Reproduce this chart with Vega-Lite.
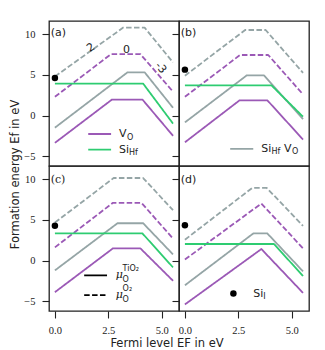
{
  "$schema": "https://vega.github.io/schema/vega-lite/v6.json",
  "padding": {"left": 9, "top": 20, "right": 0, "bottom": 0},
  "config": {
    "view": {"stroke": "#222", "strokeWidth": 1.3},
    "axis": {"domain": false, "grid": false, "tickSize": 7, "tickColor": "#222", "tickWidth": 1.1, "labelFont": "Liberation Serif", "labelFontSize": 10.5, "labelColor": "#222", "labelPadding": 7, "titleFont": "DejaVu Sans", "titleFontSize": 11.5, "titleFontWeight": "normal", "titleColor": "#222"},
    "axisY": {"titlePadding": 3},
    "axisX": {"titlePadding": 2},
    "text": {"font": "DejaVu Sans", "color": "#222"}
  },
  "datasets": {
    "lines": [
      {"panel": "a", "defect": "V_O", "mu": "TiO2", "x": 0, "y": -3.37},
      {"panel": "a", "defect": "V_O", "mu": "TiO2", "x": 2.67, "y": 1.96},
      {"panel": "a", "defect": "V_O", "mu": "TiO2", "x": 4.1, "y": 1.96},
      {"panel": "a", "defect": "V_O", "mu": "TiO2", "x": 5.53, "y": -2.5},
      {"panel": "a", "defect": "V_O", "mu": "O2", "x": 0, "y": 2.3},
      {"panel": "a", "defect": "V_O", "mu": "O2", "x": 2.63, "y": 7.56},
      {"panel": "a", "defect": "V_O", "mu": "O2", "x": 4.0, "y": 7.56},
      {"panel": "a", "defect": "V_O", "mu": "O2", "x": 5.53, "y": 2.94},
      {"panel": "a", "defect": "Si_Hf V_O", "mu": "TiO2", "x": 0, "y": -1.5},
      {"panel": "a", "defect": "Si_Hf V_O", "mu": "TiO2", "x": 3.4, "y": 5.32},
      {"panel": "a", "defect": "Si_Hf V_O", "mu": "TiO2", "x": 4.2, "y": 5.32},
      {"panel": "a", "defect": "Si_Hf V_O", "mu": "TiO2", "x": 5.53, "y": 0.95},
      {"panel": "a", "defect": "Si_Hf V_O", "mu": "O2", "x": 0, "y": 4.8},
      {"panel": "a", "defect": "Si_Hf V_O", "mu": "O2", "x": 3.2, "y": 10.83},
      {"panel": "a", "defect": "Si_Hf V_O", "mu": "O2", "x": 4.2, "y": 10.83},
      {"panel": "a", "defect": "Si_Hf V_O", "mu": "O2", "x": 5.53, "y": 6.54},
      {"panel": "a", "defect": "Si_Hf", "mu": "TiO2", "x": 0, "y": 3.93},
      {"panel": "a", "defect": "Si_Hf", "mu": "TiO2", "x": 4.13, "y": 3.93},
      {"panel": "a", "defect": "Si_Hf", "mu": "TiO2", "x": 5.53, "y": -1.0},

      {"panel": "b", "defect": "V_O", "mu": "TiO2", "x": 0, "y": -3.3},
      {"panel": "b", "defect": "V_O", "mu": "TiO2", "x": 2.56, "y": 1.87},
      {"panel": "b", "defect": "V_O", "mu": "TiO2", "x": 3.86, "y": 1.87},
      {"panel": "b", "defect": "V_O", "mu": "TiO2", "x": 5.53, "y": -2.96},
      {"panel": "b", "defect": "V_O", "mu": "O2", "x": 0, "y": 2.3},
      {"panel": "b", "defect": "V_O", "mu": "O2", "x": 2.58, "y": 7.45},
      {"panel": "b", "defect": "V_O", "mu": "O2", "x": 3.9, "y": 7.45},
      {"panel": "b", "defect": "V_O", "mu": "O2", "x": 5.53, "y": 2.6},
      {"panel": "b", "defect": "Si_Hf V_O", "mu": "TiO2", "x": 0, "y": -0.85},
      {"panel": "b", "defect": "Si_Hf V_O", "mu": "TiO2", "x": 2.9, "y": 4.95},
      {"panel": "b", "defect": "Si_Hf V_O", "mu": "TiO2", "x": 3.7, "y": 4.95},
      {"panel": "b", "defect": "Si_Hf V_O", "mu": "TiO2", "x": 5.53, "y": -0.45},
      {"panel": "b", "defect": "Si_Hf V_O", "mu": "O2", "x": 0, "y": 4.9},
      {"panel": "b", "defect": "Si_Hf V_O", "mu": "O2", "x": 2.82, "y": 10.53},
      {"panel": "b", "defect": "Si_Hf V_O", "mu": "O2", "x": 3.78, "y": 10.53},
      {"panel": "b", "defect": "Si_Hf V_O", "mu": "O2", "x": 5.53, "y": 5.25},
      {"panel": "b", "defect": "Si_Hf", "mu": "TiO2", "x": 0, "y": 3.72},
      {"panel": "b", "defect": "Si_Hf", "mu": "TiO2", "x": 4.05, "y": 3.72},
      {"panel": "b", "defect": "Si_Hf", "mu": "TiO2", "x": 5.53, "y": -0.15},

      {"panel": "c", "defect": "V_O", "mu": "TiO2", "x": 0, "y": -3.9},
      {"panel": "c", "defect": "V_O", "mu": "TiO2", "x": 2.72, "y": 1.5},
      {"panel": "c", "defect": "V_O", "mu": "TiO2", "x": 4.0, "y": 1.5},
      {"panel": "c", "defect": "V_O", "mu": "TiO2", "x": 5.53, "y": -2.5},
      {"panel": "c", "defect": "V_O", "mu": "O2", "x": 0, "y": 1.62},
      {"panel": "c", "defect": "V_O", "mu": "O2", "x": 2.72, "y": 7.11},
      {"panel": "c", "defect": "V_O", "mu": "O2", "x": 4.05, "y": 7.11},
      {"panel": "c", "defect": "V_O", "mu": "O2", "x": 5.53, "y": 2.7},
      {"panel": "c", "defect": "Si_Hf V_O", "mu": "TiO2", "x": 0, "y": -1.22},
      {"panel": "c", "defect": "Si_Hf V_O", "mu": "TiO2", "x": 2.93, "y": 4.59},
      {"panel": "c", "defect": "Si_Hf V_O", "mu": "TiO2", "x": 4.13, "y": 4.59},
      {"panel": "c", "defect": "Si_Hf V_O", "mu": "TiO2", "x": 5.53, "y": 0.75},
      {"panel": "c", "defect": "Si_Hf V_O", "mu": "O2", "x": 0, "y": 4.67},
      {"panel": "c", "defect": "Si_Hf V_O", "mu": "O2", "x": 2.75, "y": 10.16},
      {"panel": "c", "defect": "Si_Hf V_O", "mu": "O2", "x": 4.13, "y": 10.16},
      {"panel": "c", "defect": "Si_Hf V_O", "mu": "O2", "x": 5.53, "y": 6.2},
      {"panel": "c", "defect": "Si_Hf", "mu": "TiO2", "x": 0, "y": 3.33},
      {"panel": "c", "defect": "Si_Hf", "mu": "TiO2", "x": 4.1, "y": 3.33},
      {"panel": "c", "defect": "Si_Hf", "mu": "TiO2", "x": 5.53, "y": -0.85},

      {"panel": "d", "defect": "V_O", "mu": "TiO2", "x": 0, "y": -5.41},
      {"panel": "d", "defect": "V_O", "mu": "TiO2", "x": 3.58, "y": 1.41},
      {"panel": "d", "defect": "V_O", "mu": "TiO2", "x": 5.53, "y": -3.99},
      {"panel": "d", "defect": "V_O", "mu": "O2", "x": 0, "y": 0.12},
      {"panel": "d", "defect": "V_O", "mu": "O2", "x": 3.58, "y": 7.02},
      {"panel": "d", "defect": "V_O", "mu": "O2", "x": 5.53, "y": 1.5},
      {"panel": "d", "defect": "Si_Hf V_O", "mu": "TiO2", "x": 0, "y": -3.05},
      {"panel": "d", "defect": "Si_Hf V_O", "mu": "TiO2", "x": 3.2, "y": 3.33},
      {"panel": "d", "defect": "Si_Hf V_O", "mu": "TiO2", "x": 3.86, "y": 3.33},
      {"panel": "d", "defect": "Si_Hf V_O", "mu": "TiO2", "x": 5.53, "y": -1.34},
      {"panel": "d", "defect": "Si_Hf V_O", "mu": "O2", "x": 0, "y": 2.56},
      {"panel": "d", "defect": "Si_Hf V_O", "mu": "O2", "x": 3.15, "y": 8.94},
      {"panel": "d", "defect": "Si_Hf V_O", "mu": "O2", "x": 3.83, "y": 8.94},
      {"panel": "d", "defect": "Si_Hf V_O", "mu": "O2", "x": 5.53, "y": 4.27},
      {"panel": "d", "defect": "Si_Hf", "mu": "TiO2", "x": 0, "y": 2.03},
      {"panel": "d", "defect": "Si_Hf", "mu": "TiO2", "x": 4.17, "y": 2.03},
      {"panel": "d", "defect": "Si_Hf", "mu": "TiO2", "x": 5.53, "y": -1.91}
    ],
    "keys": [
      {"panel": "a", "defect": "V_O", "mu": "TiO2", "x": 1.56, "x2": 2.63, "y": -2.28},
      {"panel": "a", "defect": "Si_Hf", "mu": "TiO2", "x": 1.56, "x2": 2.63, "y": -4.2},
      {"panel": "b", "defect": "Si_Hf V_O", "mu": "TiO2", "x": 2.12, "x2": 3.2, "y": -4.12},
      {"panel": "c", "defect": "key", "mu": "TiO2", "x": 1.37, "x2": 2.44, "y": -1.83},
      {"panel": "c", "defect": "key", "mu": "O2", "x": 1.37, "x2": 2.44, "y": -4.27}
    ],
    "dots": [
      {"panel": "a", "x": 0, "y": 4.62},
      {"panel": "b", "x": 0, "y": 5.65},
      {"panel": "c", "x": 0, "y": 4.27},
      {"panel": "d", "x": 0, "y": 4.34},
      {"panel": "d", "x": 2.27, "y": -4.07}
    ],
    "texts": [
      {"panel": "a", "kind": "lab", "t": "(a)", "x": -0.2, "y": 10.2},
      {"panel": "b", "kind": "lab", "t": "(b)", "x": -0.2, "y": 10.2},
      {"panel": "c", "kind": "labserif", "t": "(c)", "x": -0.2, "y": 9.95},
      {"panel": "d", "kind": "lab", "t": "(d)", "x": -0.2, "y": 9.95},
      {"panel": "a", "kind": "q2", "t": "2", "x": 1.69, "y": 8.33},
      {"panel": "a", "kind": "q0", "t": "0", "x": 3.35, "y": 8.1},
      {"panel": "a", "kind": "q3", "t": "-3", "x": 4.95, "y": 5.86},
      {"panel": "a", "kind": "main", "t": "V", "x": 3.0, "y": -2.28},
      {"panel": "a", "kind": "sub", "t": "O", "x": 3.37, "y": -2.28},
      {"panel": "a", "kind": "main", "t": "Si", "x": 3.0, "y": -4.2},
      {"panel": "a", "kind": "sub", "t": "Hf", "x": 3.47, "y": -4.2},
      {"panel": "b", "kind": "main", "t": "Si", "x": 3.58, "y": -4.12},
      {"panel": "b", "kind": "sub", "t": "Hf", "x": 4.05, "y": -4.12},
      {"panel": "b", "kind": "main", "t": "V", "x": 4.64, "y": -4.12},
      {"panel": "b", "kind": "sub", "t": "O", "x": 5.01, "y": -4.12},
      {"panel": "c", "kind": "mu", "t": "μ", "x": 2.85, "y": -1.83},
      {"panel": "c", "kind": "sub", "t": "O", "x": 3.17, "y": -1.83},
      {"panel": "c", "kind": "sup", "t": "TiO₂", "x": 3.17, "y": -1.83},
      {"panel": "c", "kind": "mu", "t": "μ", "x": 2.85, "y": -4.27},
      {"panel": "c", "kind": "sub", "t": "O", "x": 3.17, "y": -4.27},
      {"panel": "c", "kind": "sup", "t": "O₂", "x": 3.17, "y": -4.27},
      {"panel": "d", "kind": "main", "t": "Si", "x": 3.2, "y": -4.07},
      {"panel": "d", "kind": "sub", "t": "I", "x": 3.67, "y": -4.07}
    ]
  },
  "columns": 2,
  "spacing": 0,
  "bounds": "flush",
  "concat": [
    {
      "width": 130, "height": 145,
      "encoding": {
        "x": {"field": "x", "type": "quantitative", "scale": {"domain": [-0.277, 5.81], "nice": false, "zero": false}, "axis": null},
        "y": {"field": "y", "type": "quantitative", "scale": {"domain": [-6.22, 11.64], "nice": false, "zero": false}, "axis": {"values": [-5, 0, 5, 10], "title": "Formation energy Ef in eV", "titleY": 153}}
      },
      "layer": [
        {"data": {"name": "lines"}, "transform": [{"filter": "datum.panel === 'a'"}], "mark": {"type": "line", "strokeWidth": 1.8, "strokeJoin": "round"},
         "encoding": {"color": {"field": "defect", "type": "nominal", "scale": {"domain": ["V_O", "Si_Hf", "Si_Hf V_O", "key"], "range": ["#9b59b6", "#2ecc71", "#95a5a6", "#000000"]}, "legend": null},
                      "strokeDash": {"field": "mu", "type": "nominal", "scale": {"domain": ["TiO2", "O2"], "range": [[1, 0], [5.5, 2.4]]}, "legend": null}}},
        {"data": {"name": "keys"}, "transform": [{"filter": "datum.panel === 'a'"}], "mark": {"type": "rule", "strokeWidth": 1.8},
         "encoding": {"x2": {"field": "x2"}, "color": {"field": "defect", "type": "nominal", "scale": {"domain": ["V_O", "Si_Hf", "Si_Hf V_O", "key"], "range": ["#9b59b6", "#2ecc71", "#95a5a6", "#000000"]}, "legend": null},
                      "strokeDash": {"field": "mu", "type": "nominal", "scale": {"domain": ["TiO2", "O2"], "range": [[1, 0], [5.5, 2.4]]}, "legend": null}}},
        {"data": {"name": "dots"}, "transform": [{"filter": "datum.panel === 'a'"}], "mark": {"type": "point", "filled": true, "size": 42, "color": "#000", "opacity": 1}, "encoding": {}},
        {"data": {"name": "texts"}, "transform": [{"filter": "datum.panel === 'a' && datum.kind === 'lab'"}], "mark": {"type": "text", "fontSize": 11, "align": "left", "baseline": "middle"}, "encoding": {"text": {"field": "t"}}},
        {"data": {"name": "texts"}, "transform": [{"filter": "datum.panel === 'a' && datum.kind === 'main'"}], "mark": {"type": "text", "fontSize": 11, "align": "left", "baseline": "middle"}, "encoding": {"text": {"field": "t"}}},
        {"data": {"name": "texts"}, "transform": [{"filter": "datum.panel === 'a' && datum.kind === 'sub'"}], "mark": {"type": "text", "fontSize": 8, "dy": 3.5, "align": "left", "baseline": "middle"}, "encoding": {"text": {"field": "t"}}},
        {"data": {"name": "texts"}, "transform": [{"filter": "datum.panel === 'a' && datum.kind === 'q2'"}], "mark": {"type": "text", "fontSize": 11, "angle": -34, "align": "center", "baseline": "middle"}, "encoding": {"text": {"field": "t"}}},
        {"data": {"name": "texts"}, "transform": [{"filter": "datum.panel === 'a' && datum.kind === 'q0'"}], "mark": {"type": "text", "fontSize": 11, "align": "center", "baseline": "middle"}, "encoding": {"text": {"field": "t"}}},
        {"data": {"name": "texts"}, "transform": [{"filter": "datum.panel === 'a' && datum.kind === 'q3'"}], "mark": {"type": "text", "fontSize": 11, "angle": 50, "align": "center", "baseline": "middle"}, "encoding": {"text": {"field": "t"}}}
      ]
    },
    {
      "width": 130, "height": 145,
      "encoding": {
        "x": {"field": "x", "type": "quantitative", "scale": {"domain": [-0.277, 5.81], "nice": false, "zero": false}, "axis": null},
        "y": {"field": "y", "type": "quantitative", "scale": {"domain": [-6.22, 11.64], "nice": false, "zero": false}, "axis": {"values": [-5, 0, 5, 10], "labels": false, "title": null}}
      },
      "layer": [
        {"data": {"name": "lines"}, "transform": [{"filter": "datum.panel === 'b'"}], "mark": {"type": "line", "strokeWidth": 1.8, "strokeJoin": "round"},
         "encoding": {"color": {"field": "defect", "type": "nominal", "scale": {"domain": ["V_O", "Si_Hf", "Si_Hf V_O", "key"], "range": ["#9b59b6", "#2ecc71", "#95a5a6", "#000000"]}, "legend": null},
                      "strokeDash": {"field": "mu", "type": "nominal", "scale": {"domain": ["TiO2", "O2"], "range": [[1, 0], [5.5, 2.4]]}, "legend": null}}},
        {"data": {"name": "keys"}, "transform": [{"filter": "datum.panel === 'b'"}], "mark": {"type": "rule", "strokeWidth": 1.8},
         "encoding": {"x2": {"field": "x2"}, "color": {"field": "defect", "type": "nominal", "scale": {"domain": ["V_O", "Si_Hf", "Si_Hf V_O", "key"], "range": ["#9b59b6", "#2ecc71", "#95a5a6", "#000000"]}, "legend": null},
                      "strokeDash": {"field": "mu", "type": "nominal", "scale": {"domain": ["TiO2", "O2"], "range": [[1, 0], [5.5, 2.4]]}, "legend": null}}},
        {"data": {"name": "dots"}, "transform": [{"filter": "datum.panel === 'b'"}], "mark": {"type": "point", "filled": true, "size": 42, "color": "#000", "opacity": 1}, "encoding": {}},
        {"data": {"name": "texts"}, "transform": [{"filter": "datum.panel === 'b' && datum.kind === 'lab'"}], "mark": {"type": "text", "fontSize": 11, "align": "left", "baseline": "middle"}, "encoding": {"text": {"field": "t"}}},
        {"data": {"name": "texts"}, "transform": [{"filter": "datum.panel === 'b' && datum.kind === 'main'"}], "mark": {"type": "text", "fontSize": 11, "align": "left", "baseline": "middle"}, "encoding": {"text": {"field": "t"}}},
        {"data": {"name": "texts"}, "transform": [{"filter": "datum.panel === 'b' && datum.kind === 'sub'"}], "mark": {"type": "text", "fontSize": 8, "dy": 3.5, "align": "left", "baseline": "middle"}, "encoding": {"text": {"field": "t"}}}
      ]
    },
    {
      "width": 130, "height": 145,
      "encoding": {
        "x": {"field": "x", "type": "quantitative", "scale": {"domain": [-0.277, 5.81], "nice": false, "zero": false}, "axis": {"values": [0, 2.5, 5], "format": ".1f", "title": "Fermi level EF in eV", "titleX": 117.5}},
        "y": {"field": "y", "type": "quantitative", "scale": {"domain": [-6.22, 11.64], "nice": false, "zero": false}, "axis": {"values": [-5, 0, 5, 10], "title": null}}
      },
      "layer": [
        {"data": {"name": "lines"}, "transform": [{"filter": "datum.panel === 'c'"}], "mark": {"type": "line", "strokeWidth": 1.8, "strokeJoin": "round"},
         "encoding": {"color": {"field": "defect", "type": "nominal", "scale": {"domain": ["V_O", "Si_Hf", "Si_Hf V_O", "key"], "range": ["#9b59b6", "#2ecc71", "#95a5a6", "#000000"]}, "legend": null},
                      "strokeDash": {"field": "mu", "type": "nominal", "scale": {"domain": ["TiO2", "O2"], "range": [[1, 0], [5.5, 2.4]]}, "legend": null}}},
        {"data": {"name": "keys"}, "transform": [{"filter": "datum.panel === 'c'"}], "mark": {"type": "rule", "strokeWidth": 1.8},
         "encoding": {"x2": {"field": "x2"}, "color": {"field": "defect", "type": "nominal", "scale": {"domain": ["V_O", "Si_Hf", "Si_Hf V_O", "key"], "range": ["#9b59b6", "#2ecc71", "#95a5a6", "#000000"]}, "legend": null},
                      "strokeDash": {"field": "mu", "type": "nominal", "scale": {"domain": ["TiO2", "O2"], "range": [[1, 0], [5.5, 2.4]]}, "legend": null}}},
        {"data": {"name": "dots"}, "transform": [{"filter": "datum.panel === 'c'"}], "mark": {"type": "point", "filled": true, "size": 42, "color": "#000", "opacity": 1}, "encoding": {}},
        {"data": {"name": "texts"}, "transform": [{"filter": "datum.panel === 'c' && datum.kind === 'labserif'"}], "mark": {"type": "text", "font": "DejaVu Serif", "fontSize": 11, "align": "left", "baseline": "middle"}, "encoding": {"text": {"field": "t"}}},
        {"data": {"name": "texts"}, "transform": [{"filter": "datum.panel === 'c' && datum.kind === 'mu'"}], "mark": {"type": "text", "font": "DejaVu Serif", "fontStyle": "italic", "fontSize": 11, "align": "left", "baseline": "middle"}, "encoding": {"text": {"field": "t"}}},
        {"data": {"name": "texts"}, "transform": [{"filter": "datum.panel === 'c' && datum.kind === 'sub'"}], "mark": {"type": "text", "fontSize": 8, "dy": 4.5, "align": "left", "baseline": "middle"}, "encoding": {"text": {"field": "t"}}},
        {"data": {"name": "texts"}, "transform": [{"filter": "datum.panel === 'c' && datum.kind === 'sup'"}], "mark": {"type": "text", "fontSize": 8, "dy": -6, "align": "left", "baseline": "middle"}, "encoding": {"text": {"field": "t"}}}
      ]
    },
    {
      "width": 130, "height": 145,
      "encoding": {
        "x": {"field": "x", "type": "quantitative", "scale": {"domain": [-0.277, 5.81], "nice": false, "zero": false}, "axis": {"values": [0, 2.5, 5], "format": ".1f", "title": null}},
        "y": {"field": "y", "type": "quantitative", "scale": {"domain": [-6.22, 11.64], "nice": false, "zero": false}, "axis": {"values": [-5, 0, 5, 10], "labels": false, "title": null}}
      },
      "layer": [
        {"data": {"name": "lines"}, "transform": [{"filter": "datum.panel === 'd'"}], "mark": {"type": "line", "strokeWidth": 1.8, "strokeJoin": "round"},
         "encoding": {"color": {"field": "defect", "type": "nominal", "scale": {"domain": ["V_O", "Si_Hf", "Si_Hf V_O", "key"], "range": ["#9b59b6", "#2ecc71", "#95a5a6", "#000000"]}, "legend": null},
                      "strokeDash": {"field": "mu", "type": "nominal", "scale": {"domain": ["TiO2", "O2"], "range": [[1, 0], [5.5, 2.4]]}, "legend": null}}},
        {"data": {"name": "dots"}, "transform": [{"filter": "datum.panel === 'd'"}], "mark": {"type": "point", "filled": true, "size": 42, "color": "#000", "opacity": 1}, "encoding": {}},
        {"data": {"name": "texts"}, "transform": [{"filter": "datum.panel === 'd' && datum.kind === 'lab'"}], "mark": {"type": "text", "fontSize": 11, "align": "left", "baseline": "middle"}, "encoding": {"text": {"field": "t"}}},
        {"data": {"name": "texts"}, "transform": [{"filter": "datum.panel === 'd' && datum.kind === 'main'"}], "mark": {"type": "text", "fontSize": 11, "align": "left", "baseline": "middle"}, "encoding": {"text": {"field": "t"}}},
        {"data": {"name": "texts"}, "transform": [{"filter": "datum.panel === 'd' && datum.kind === 'sub'"}], "mark": {"type": "text", "fontSize": 8, "dy": 3.5, "align": "left", "baseline": "middle"}, "encoding": {"text": {"field": "t"}}}
      ]
    }
  ]
}
